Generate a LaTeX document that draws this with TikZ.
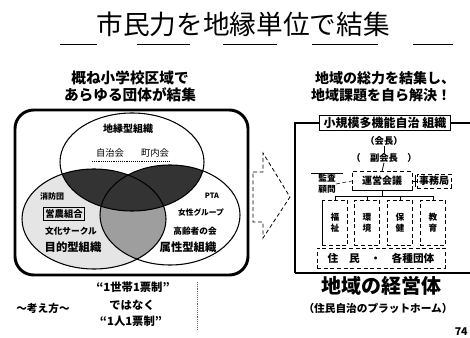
\documentclass[tikz,border=0pt]{standalone}
\usepackage{fontspec}
\setmainfont{Noto Sans CJK JP}
\begin{document}
\begin{tikzpicture}[x=0.75pt,y=-0.75pt,
  lbl/.style={inner sep=0pt, font=\fontsize{#1}{#1}\selectfont},
  blbl/.style={inner sep=0pt, font=\bfseries\fontsize{#1}{#1}\selectfont},
  deptbox/.style={draw, densely dashed, thin, minimum width=19pt, minimum height=34pt, align=center, inner sep=0pt, font=\bfseries\fontsize{6.5pt}{8pt}\selectfont},
  conn/.style={line width=0.6pt}
]
\useasboundingbox (0,0) rectangle (470,338);
\fill[white] (0,0) rectangle (470,338);

% title
\node[lbl=20pt] (title) at (243,24) {市民力を地縁単位で結集};
\foreach \a/\b in {60/97,137/190,223/277,312/378,413/453}
  \draw[line width=0.7pt] (\a,44) -- (\b,44);

% left header
\node[blbl=11pt] (lh1) at (130,78) {概ね小学校区域で};
\node[blbl=11pt] (lh2) at (130,95) {あらゆる団体が結集};

% venn fills
\fill[black!10] (94,219) ellipse [x radius=72, y radius=50];
\begin{scope}
  \clip (94,219) ellipse [x radius=72, y radius=50];
  \fill[black!38] (170,215) ellipse [x radius=70, y radius=50];
\end{scope}
\begin{scope}
  \clip (132,162) ellipse [x radius=72, y radius=49];
  \fill[black!80] (94,219) ellipse [x radius=72, y radius=50];
  \fill[black!80] (170,215) ellipse [x radius=70, y radius=50];
\end{scope}
\draw[line width=0.8pt] (132,162) ellipse [x radius=72, y radius=49];
\draw[line width=0.8pt] (94,219) ellipse [x radius=72, y radius=50];
\draw[line width=0.8pt] (170,215) ellipse [x radius=70, y radius=50];

% frame
\draw[line width=2.2pt, rounded corners=14pt] (15,110) rectangle (248,275);

% venn labels
\node[blbl=7.5pt] (chien) at (128,129) {地縁型組織};
\node[lbl=7pt] (jichi) at (110,153) {自治会};
\node[lbl=7pt] (chonai) at (155,153) {町内会};
\draw[densely dotted] (92,161) -- (170,161);

\node[blbl=6pt] (shobo) at (52,196) {消防団};
\node[blbl=7pt, draw, line width=0.6pt, inner sep=1.5pt] (einou) at (64,214) {営農組合};
\node[blbl=6.5pt] (bunka) at (71,231) {文化サークル};
\node[blbl=8.5pt] (mokuteki) at (73,247) {目的型組織};

\node[blbl=5.5pt] (pta) at (212,196) {PTA};
\node[blbl=5.8pt] (josei) at (201,212) {女性グループ};
\node[blbl=6.5pt] (koreisha) at (195,231) {高齢者の会};
\node[blbl=8.5pt] (zokusei) at (188,247) {属性型組織};

% bottom left text
\node[blbl=8pt] (kangae) at (43,308) {〜考え方〜};
\node[blbl=8.5pt] (b1) at (133,287) {“1世帯1票制”};
\node[blbl=8.5pt] (b2) at (132,305) {ではなく};
\node[blbl=8.5pt] (b3) at (131,321) {“1人1票制”};
\draw[densely dotted, black!60] (197,282) -- (197,330);

% block arrow
\draw[densely dashed, line width=0.6pt] (253,172) -- (263,172) -- (263,153) -- (290,197) -- (263,238) -- (263,222) -- (253,222) -- cycle;

% right header
\node[blbl=10.5pt] (rh1) at (385,78) {地域の総力を結集し、};
\node[blbl=10.5pt] (rh2) at (381,95) {地域課題を自ら解決！};

% right frame
\node[draw, line width=0.9pt, blbl=9pt, inner xsep=3pt, minimum height=11pt] (rtitle) at (385,123) {小規模多機能自治 組織};
\draw[line width=0.8pt] (rtitle.west) -- (295,123) -- (295,273);
\draw[line width=0.8pt] (rtitle.east) -- (470,123);
\draw[line width=1.8pt] (295,273) -- (470,273);

% org chart
\node[blbl=7pt] (kaicho) at (384,141) {（会長）};
\node[blbl=7pt] (fuku) at (384,158) {（　副会長　）};
\node[draw, densely dashed, thin, blbl=7.5pt, minimum width=45pt, minimum height=14pt] (unei) at (382,181) {運営会議};
\draw[conn] (unei.south west) -- (unei.south east);
\draw[conn] (kaicho.south) -- (fuku.north);
\draw[conn] (fuku.south) -- (unei.north);

\node[blbl=6.5pt, align=center] (kansa) at (327,184) {監査\\[2pt]顧問};
\draw[conn] (311,173) -- (343,173);
\draw[densely dashed] (kansa.east) -- (unei.west);

\node[draw, densely dashed, thin, blbl=7.5pt, inner sep=1.5pt] (jimu) at (434,181) {事務局};
\draw[conn] (unei.east) -- (jimu.west);
\draw[conn] (415,175) -- (415,187);

\coordinate (bus) at (382,196);
\draw[conn] (unei.south) -- (bus);
\draw[conn] (335,196) -- (433,196);
\node[deptbox] (d1) at (335,223) {福\\祉};
\node[deptbox] (d2) at (367,223) {環\\境};
\node[deptbox] (d3) at (400,223) {保\\健};
\node[deptbox] (d4) at (433,223) {教\\育};
\foreach \d/\x in {d1/335,d2/367,d3/400,d4/433}
  \draw[conn] (\x,196) -- (\d.north);
\draw[conn] (322,200) -- (322,245);

\node[draw, densely dashed, thin, blbl=8pt, minimum width=96pt, minimum height=15pt] (jumin) at (381,258) {住　民　・　各種団体};

\node[blbl=15pt] (keiei) at (381,286) {地域の経営体};
\node[blbl=8pt] (plat) at (378,308) {（住民自治のプラットホーム）};
\node[blbl=8pt, anchor=east] (pg) at (468,332) {74};
\end{tikzpicture}
\end{document}
